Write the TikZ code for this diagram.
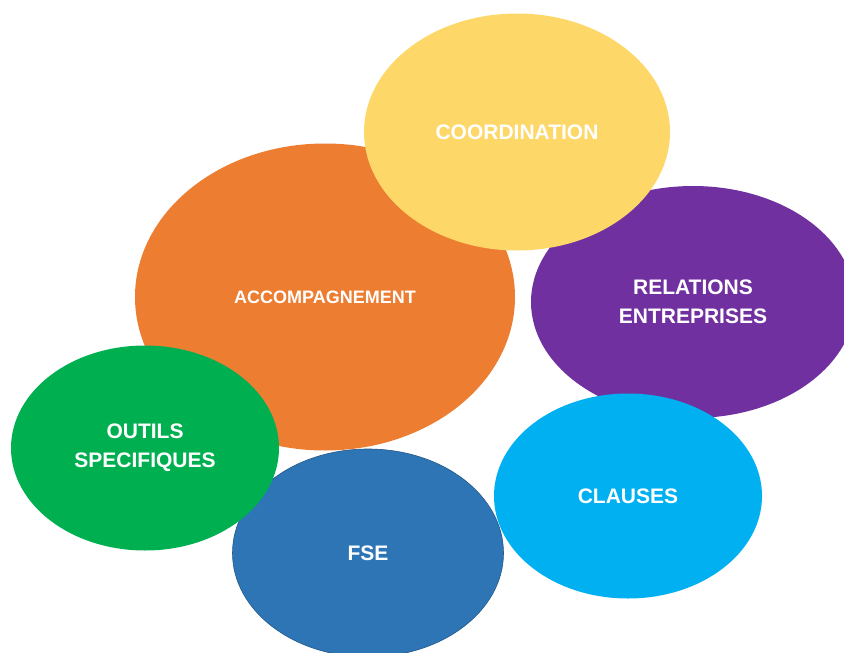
\documentclass[tikz,border=0pt]{standalone}
\usepackage{fontspec}
\setmainfont{Liberation Sans}
\usetikzlibrary{shapes.geometric}

\definecolor{accompcol}{HTML}{ED7D31}
\definecolor{coordcol}{HTML}{FDD869}
\definecolor{relcol}{HTML}{7030A0}
\definecolor{outilscol}{HTML}{00B050}
\definecolor{fsecol}{HTML}{2E75B6}
\definecolor{clausecol}{HTML}{00B0F0}

\begin{document}
\begin{tikzpicture}[x=1pt,y=1pt,
    bubble/.style={ellipse,inner sep=0pt,text=white,align=center,
        font=\bfseries\fontsize{21}{29}\selectfont}]
\useasboundingbox (0,0) rectangle (844,-653);
\node[bubble,fill=accompcol,minimum width=380,minimum height=307,
    font=\bfseries\fontsize{18}{25}\selectfont] (accomp) at (325,-297) {ACCOMPAGNEMENT};
\node[bubble,fill=relcol,minimum width=324,minimum height=232] (rel) at (693,-302) {RELATIONS\\ENTREPRISES};
\node[bubble,fill=coordcol,minimum width=306,minimum height=237] (coord) at (517,-132) {COORDINATION};
\node[bubble,fill=fsecol,draw=fsecol!75!black,line width=0.6pt,
    minimum width=271,minimum height=208] (fse) at (368,-553) {FSE};
\node[bubble,fill=outilscol,minimum width=268,minimum height=205] (outils) at (145,-448) {OUTILS\\SPECIFIQUES};
\node[bubble,fill=clausecol,minimum width=268,minimum height=205] (clauses) at (628,-496) {CLAUSES};
\end{tikzpicture}
\end{document}
